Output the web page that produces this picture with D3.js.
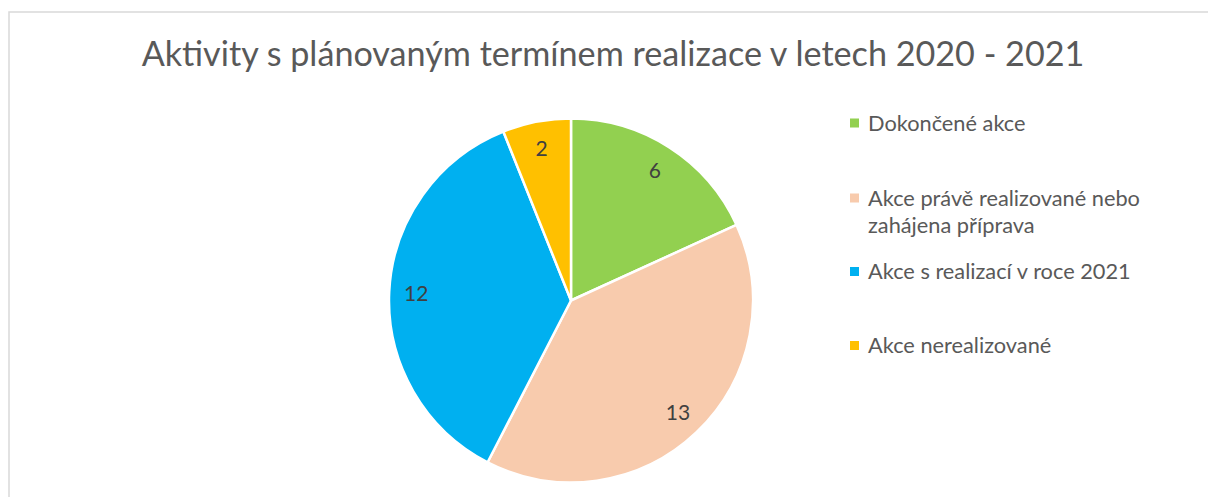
<!DOCTYPE html>
<html>
<head>
<meta charset="utf-8">
<script src="https://cdn.jsdelivr.net/npm/d3@7"></script>
<style>
  body { margin: 0; background: #fff; }
  text { font-family: Lato, "Open Sans", sans-serif; fill: #595959; }
</style>
</head>
<body>
<div id="chart"></div>
<script>
// data
const title = "Aktivity s plánovaným termínem realizace v letech 2020 - 2021";
const categories = ["Dokončené akce", "Akce právě realizované nebo zahájena příprava", "Akce s realizací v roce 2021", "Akce nerealizované"];
const legendLines = [["Dokončené akce"], ["Akce právě realizované nebo", "zahájena příprava"], ["Akce s realizací v roce 2021"], ["Akce nerealizované"]];
const values = [6, 13, 12, 2];
const colors = ["#92D050", "#F8CBAD", "#00B0F0", "#FFC000"];

const width = 1208, height = 497;
const cx = 571, cy = 300.5, radius = 182;

const svg = d3.select("#chart").append("svg")
    .attr("width", width)
    .attr("height", height);

// chart frame (right and bottom edges fall outside the picture)
svg.append("rect")
    .attr("x", 9).attr("y", 12)
    .attr("width", 1220).attr("height", 520)
    .attr("fill", "none")
    .attr("stroke", "#d9d9d9")
    .attr("stroke-width", 1.5);

// title, fitted to the width it has in the reference
const titleText = svg.append("text")
    .attr("x", 613).attr("y", 66)
    .attr("text-anchor", "middle")
    .style("font-size", "32px")
    .text(title);
const tw = titleText.node().getComputedTextLength();
titleText.style("font-size", (32 * 943 / tw) + "px");

const color = d3.scaleOrdinal().domain(categories).range(colors);

const pie = d3.pie().sort(null).value(d => d.value);
const arc = d3.arc().innerRadius(0).outerRadius(radius);
const labelArc = d3.arc().innerRadius(155).outerRadius(155);

const pieData = pie(categories.map((c, i) => ({ name: c, value: values[i] })));

const g = svg.append("g").attr("transform", `translate(${cx},${cy})`);

g.selectAll("path")
    .data(pieData)
    .join("path")
    .attr("d", arc)
    .attr("fill", d => color(d.data.name))
    .attr("stroke", "#fff")
    .attr("stroke-width", 2.5)
    .attr("stroke-linejoin", "round");

g.selectAll("text.label")
    .data(pieData)
    .join("text")
    .attr("class", "label")
    .attr("transform", d => `translate(${labelArc.centroid(d)})`)
    .attr("text-anchor", "middle")
    .attr("dy", "0.36em")
    .style("font-size", "21px")
    .style("fill", "#404040")
    .text(d => d.data.value);

// legend
const legendBase = [130.5, 205.5, 279, 353];
const legend = svg.append("g");
const items = legend.selectAll("g")
    .data(categories)
    .join("g")
    .attr("transform", (d, i) => `translate(850,${legendBase[i]})`);

items.append("rect")
    .attr("x", 0).attr("y", -12)
    .attr("width", 9).attr("height", 9)
    .attr("fill", d => color(d));

const legendTexts = items.append("text")
    .attr("x", 18)
    .style("font-size", "21px");
legendTexts.selectAll("tspan")
    .data((d, i) => legendLines[i])
    .join("tspan")
    .attr("x", 18)
    .attr("dy", (d, j) => j === 0 ? 0 : 27.5)
    .text(d => d);

// fit legend font to the reference width of the third entry
const lw = legendTexts.nodes()[2].getComputedTextLength();
legendTexts.style("font-size", (21 * 263 / lw) + "px");
</script>
</body>
</html>
